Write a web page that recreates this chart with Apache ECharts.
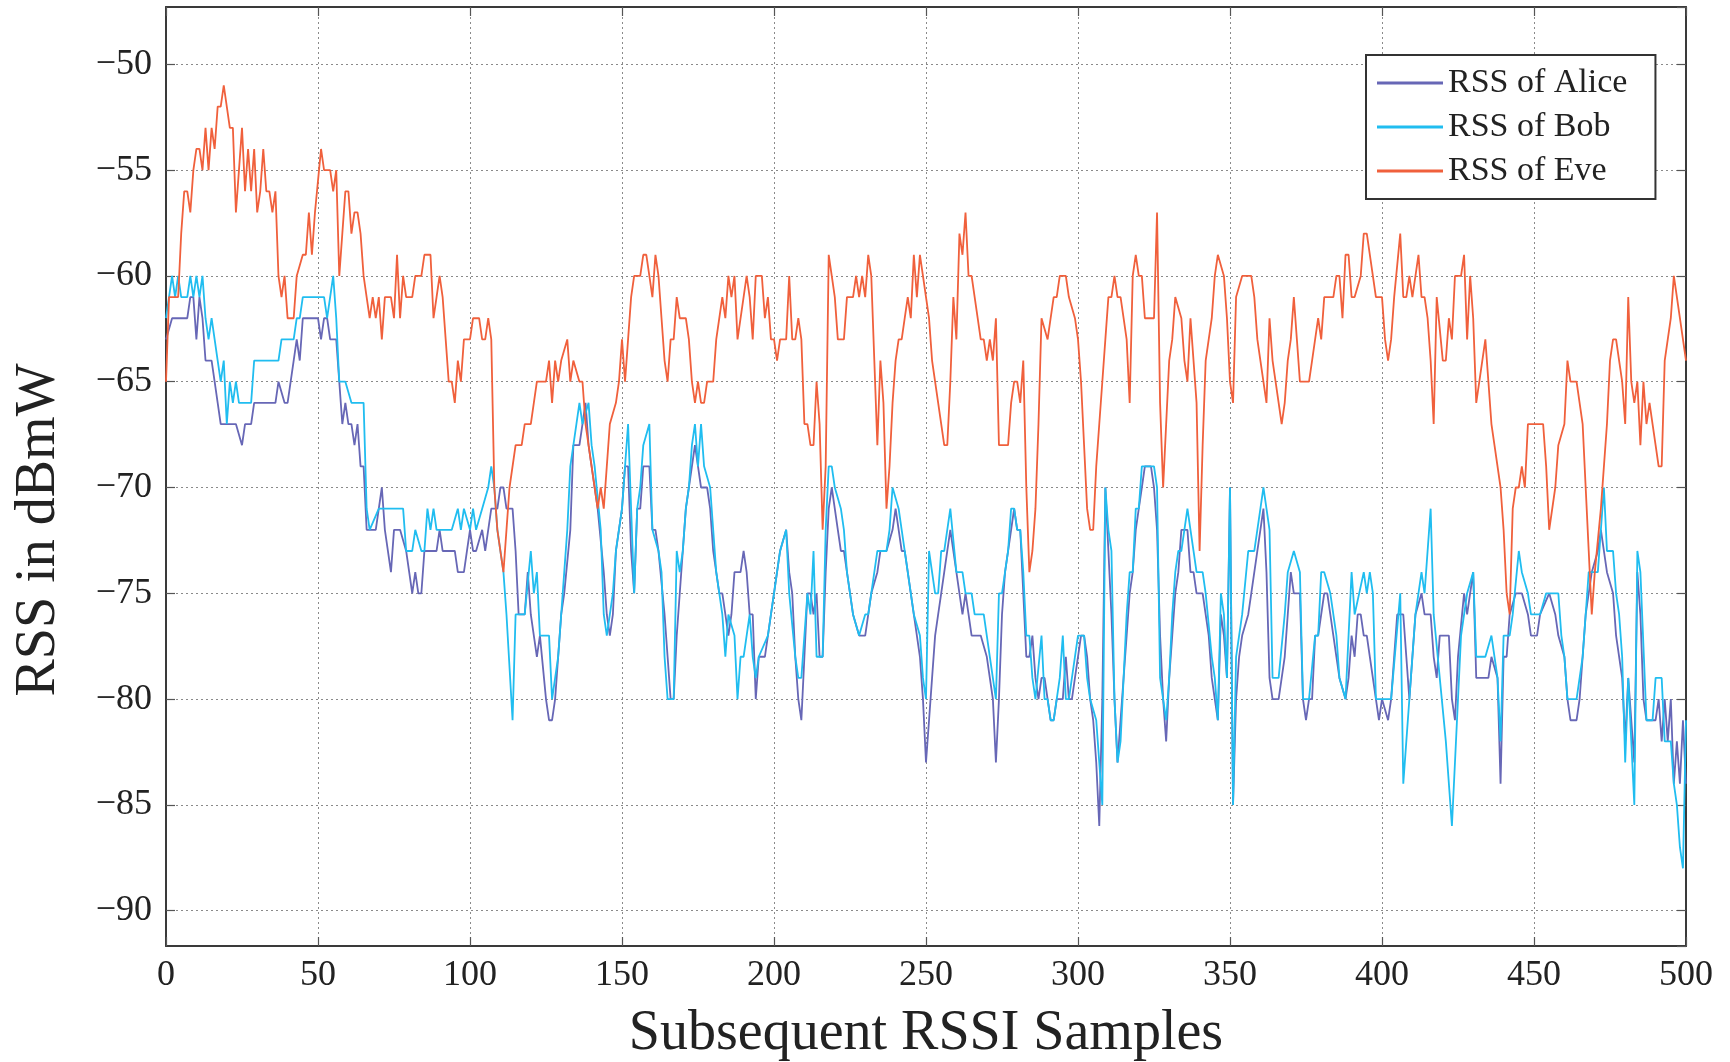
<!DOCTYPE html>
<html>
<head>
<meta charset="utf-8">
<script src="https://cdn.jsdelivr.net/npm/echarts@6/dist/echarts.min.js"></script>
<style>html,body{margin:0;padding:0;background:#fff}#c{width:1730px;height:1062px}</style>
</head>
<body>
<div id="c"></div>
<script>
const seriesNames = ['RSS of Alice', 'RSS of Bob', 'RSS of Eve'];
const xTicks = [0, 50, 100, 150, 200, 250, 300, 350, 400, 450, 500];
const yTicks = [-90, -85, -80, -75, -70, -65, -60, -55, -50];
const xTitle = 'Subsequent RSSI Samples';
const yTitle = 'RSS in dBmW';

const alice = [[0,-63],[2,-62],[7,-62],[8,-61],[9,-61],[10,-63],[11,-61],[12,-62],[13,-64],[15,-64],[16,-65],[17,-66],[18,-67],[23,-67],[25,-68],[26,-67],[28,-67],[29,-66],[36,-66],[37,-65],[39,-66],[40,-66],[42,-64],[43,-63],[44,-64],[45,-62],[50,-62],[51,-63],[52,-62],[53,-62],[54,-63],[56,-63],[57,-65],[58,-67],[59,-66],[60,-67],[61,-67],[62,-68],[63,-67],[64,-69],[65,-69],[66,-72],[69,-72],[70,-71],[71,-70],[72,-72],[74,-74],[75,-72],[77,-72],[79,-73],[80,-74],[81,-75],[82,-74],[83,-75],[84,-75],[85,-73],[89,-73],[90,-72],[91,-73],[95,-73],[96,-74],[98,-74],[99,-73],[100,-72],[101,-73],[102,-73],[104,-72],[105,-73],[107,-71],[109,-71],[110,-70],[111,-70],[112,-71],[114,-71],[115,-73],[116,-76],[118,-76],[119,-74],[120,-76],[122,-78],[123,-77],[125,-80],[126,-81],[127,-81],[128,-80],[129,-78],[130,-76],[131,-75],[133,-72],[134,-68],[136,-68],[137,-67],[138,-66],[139,-68],[140,-69],[142,-71],[144,-74],[145,-76],[146,-77],[147,-76],[148,-73],[150,-71],[151,-69],[152,-69],[153,-73],[154,-75],[155,-71],[156,-71],[157,-69],[159,-69],[160,-72],[161,-72],[162,-73],[164,-76],[165,-78],[166,-80],[167,-80],[168,-77],[169,-75],[170,-73],[171,-71],[172,-70],[174,-68],[175,-69],[176,-70],[178,-70],[179,-71],[180,-73],[182,-75],[183,-75],[184,-76],[185,-77],[186,-76],[187,-74],[189,-74],[190,-73],[191,-74],[192,-76],[193,-76],[194,-80],[195,-78],[197,-78],[198,-77],[199,-76],[200,-75],[202,-73],[204,-72],[205,-74],[206,-75],[207,-78],[208,-80],[209,-81],[210,-78],[211,-75],[212,-75],[213,-76],[214,-75],[215,-78],[216,-78],[217,-74],[218,-71],[219,-70],[220,-71],[221,-72],[222,-73],[223,-73],[224,-74],[226,-76],[228,-77],[230,-77],[232,-75],[234,-74],[235,-73],[237,-73],[239,-72],[240,-71],[242,-73],[243,-73],[245,-75],[247,-77],[248,-78],[249,-80],[250,-83],[251,-81],[252,-79],[253,-77],[254,-76],[255,-75],[256,-74],[257,-73],[258,-72],[260,-74],[261,-75],[262,-76],[263,-75],[264,-76],[265,-77],[268,-77],[270,-78],[271,-79],[272,-80],[273,-83],[274,-80],[275,-76],[276,-74],[278,-72],[279,-71],[280,-72],[281,-72],[282,-75],[283,-78],[284,-78],[285,-77],[286,-79],[287,-80],[288,-79],[289,-79],[290,-80],[291,-81],[292,-81],[293,-80],[295,-80],[296,-78],[297,-80],[298,-80],[299,-79],[301,-77],[302,-77],[303,-78],[304,-80],[305,-81],[306,-83],[307,-86],[308,-80],[309,-70],[310,-73],[311,-76],[312,-80],[313,-83],[314,-81],[315,-79],[316,-77],[317,-75],[318,-74],[319,-72],[320,-71],[321,-70],[322,-69],[324,-69],[325,-70],[326,-72],[327,-77],[328,-80],[329,-82],[330,-79],[331,-77],[332,-75],[333,-74],[334,-72],[336,-72],[337,-74],[338,-74],[339,-75],[341,-75],[343,-77],[344,-79],[345,-80],[346,-81],[347,-76],[348,-77],[349,-79],[350,-70],[351,-85],[352,-80],[353,-78],[354,-77],[356,-76],[357,-75],[359,-73],[360,-72],[361,-71],[362,-74],[363,-79],[364,-80],[366,-80],[368,-78],[369,-76],[370,-74],[371,-75],[373,-75],[374,-80],[375,-81],[376,-80],[377,-80],[378,-77],[379,-77],[381,-75],[382,-75],[383,-76],[384,-77],[385,-78],[386,-79],[388,-80],[389,-79],[390,-77],[391,-78],[392,-76],[393,-76],[394,-77],[395,-77],[396,-78],[398,-80],[399,-81],[400,-80],[402,-81],[403,-80],[404,-78],[405,-76],[407,-76],[408,-78],[409,-80],[410,-78],[411,-76],[413,-75],[414,-76],[416,-76],[417,-78],[418,-79],[419,-77],[422,-77],[423,-80],[424,-81],[425,-78],[427,-75],[428,-76],[430,-74],[431,-79],[435,-79],[436,-78],[438,-79],[439,-84],[440,-78],[441,-78],[442,-76],[444,-75],[446,-75],[448,-76],[449,-77],[451,-77],[452,-76],[455,-75],[457,-76],[458,-77],[460,-78],[461,-80],[462,-81],[464,-81],[465,-80],[466,-78],[467,-76],[469,-74],[471,-73],[472,-72],[474,-74],[476,-75],[477,-77],[479,-79],[480,-82],[481,-79],[483,-83],[484,-74],[485,-76],[486,-80],[487,-81],[490,-81],[491,-80],[492,-82],[493,-80],[494,-82],[495,-80],[496,-84],[497,-82],[498,-84],[499,-81],[500,-84]];

const bob = [[0,-62],[2,-60],[3,-61],[4,-60],[5,-61],[7,-61],[8,-60],[9,-61],[10,-60],[11,-61],[12,-60],[13,-62],[14,-63],[15,-62],[16,-63],[17,-64],[18,-65],[19,-64],[20,-67],[21,-65],[22,-66],[23,-65],[24,-66],[28,-66],[29,-64],[37,-64],[38,-63],[42,-63],[43,-62],[44,-62],[45,-61],[52,-61],[53,-62],[55,-60],[56,-62],[57,-65],[59,-65],[61,-66],[65,-66],[66,-71],[67,-72],[70,-71],[78,-71],[79,-73],[81,-73],[82,-72],[84,-73],[85,-73],[86,-71],[87,-72],[88,-71],[89,-72],[94,-72],[96,-71],[97,-72],[98,-71],[100,-72],[101,-71],[102,-72],[104,-71],[106,-70],[107,-69],[108,-70],[109,-72],[111,-74],[112,-76],[114,-81],[115,-76],[118,-76],[120,-73],[121,-75],[122,-74],[123,-77],[126,-77],[127,-80],[129,-78],[130,-76],[131,-74],[132,-72],[133,-69],[135,-67],[136,-66],[137,-67],[139,-66],[140,-68],[141,-69],[143,-72],[144,-76],[145,-77],[147,-75],[148,-73],[150,-71],[152,-67],[153,-71],[154,-75],[155,-71],[156,-70],[157,-68],[159,-67],[160,-72],[162,-73],[163,-74],[164,-78],[165,-80],[167,-80],[168,-73],[169,-74],[170,-73],[171,-71],[172,-70],[173,-68],[174,-67],[175,-69],[176,-67],[177,-69],[179,-70],[180,-72],[181,-74],[183,-76],[184,-78],[185,-76],[187,-77],[188,-80],[189,-78],[190,-78],[192,-76],[193,-78],[194,-79],[195,-78],[198,-77],[199,-76],[200,-75],[202,-73],[204,-72],[205,-75],[207,-78],[208,-79],[209,-79],[210,-77],[211,-75],[212,-76],[213,-73],[214,-78],[216,-78],[217,-72],[218,-69],[219,-69],[220,-70],[222,-71],[223,-72],[224,-74],[226,-76],[228,-77],[230,-76],[231,-76],[233,-74],[234,-73],[237,-73],[238,-72],[239,-70],[241,-71],[242,-72],[244,-74],[246,-76],[248,-77],[249,-79],[250,-80],[251,-73],[252,-74],[253,-75],[254,-75],[255,-73],[256,-73],[258,-71],[260,-74],[262,-74],[263,-75],[265,-75],[266,-76],[269,-76],[270,-77],[271,-78],[273,-80],[274,-75],[275,-75],[276,-74],[277,-73],[278,-71],[279,-71],[280,-72],[281,-72],[282,-74],[283,-77],[284,-77],[285,-79],[286,-80],[288,-77],[289,-80],[290,-80],[291,-81],[292,-81],[293,-80],[294,-79],[295,-77],[296,-80],[297,-80],[298,-79],[300,-77],[302,-77],[303,-79],[304,-80],[306,-81],[307,-83],[308,-85],[309,-70],[310,-72],[311,-73],[312,-80],[313,-83],[314,-82],[315,-79],[316,-76],[317,-74],[318,-74],[319,-71],[320,-71],[321,-69],[325,-69],[326,-70],[327,-79],[328,-80],[329,-81],[330,-79],[331,-76],[332,-74],[333,-73],[334,-73],[336,-71],[337,-72],[338,-73],[339,-74],[341,-74],[342,-75],[344,-78],[345,-79],[346,-81],[347,-75],[348,-76],[349,-79],[350,-70],[351,-85],[352,-78],[353,-77],[354,-76],[356,-73],[358,-73],[360,-71],[361,-70],[362,-71],[363,-72],[364,-79],[366,-79],[368,-76],[369,-74],[371,-73],[373,-74],[374,-80],[376,-80],[378,-77],[379,-77],[380,-74],[381,-74],[383,-75],[385,-77],[386,-79],[388,-80],[389,-77],[390,-74],[391,-76],[394,-74],[395,-75],[396,-74],[397,-75],[398,-80],[403,-80],[406,-75],[407,-84],[409,-80],[411,-76],[413,-74],[414,-75],[416,-71],[417,-76],[419,-79],[421,-82],[423,-86],[425,-80],[426,-77],[428,-75],[430,-74],[431,-78],[434,-78],[436,-77],[438,-79],[439,-82],[440,-77],[442,-77],[443,-76],[445,-73],[446,-74],[448,-75],[449,-76],[452,-76],[454,-75],[458,-75],[459,-77],[460,-78],[461,-80],[464,-80],[466,-78],[467,-76],[468,-74],[471,-74],[472,-72],[473,-70],[474,-73],[476,-73],[477,-75],[478,-76],[479,-78],[480,-83],[481,-79],[483,-85],[484,-73],[485,-74],[487,-81],[489,-81],[490,-79],[492,-79],[493,-82],[495,-82],[496,-84],[497,-85],[498,-87],[499,-88],[500,-81]];

const eve = [[0,-65],[1,-61],[4,-61],[5,-58],[6,-56],[7,-56],[8,-57],[9,-55],[10,-54],[11,-54],[12,-55],[13,-53],[14,-55],[15,-53],[16,-54],[17,-52],[18,-52],[19,-51],[21,-53],[22,-53],[23,-57],[24,-55],[25,-53],[26,-56],[27,-54],[28,-56],[29,-54],[30,-57],[31,-56],[32,-54],[33,-56],[34,-56],[35,-57],[36,-56],[37,-60],[38,-61],[39,-60],[40,-62],[42,-62],[43,-60],[45,-59],[46,-59],[47,-57],[48,-59],[49,-57],[51,-54],[52,-55],[54,-55],[55,-56],[56,-55],[57,-60],[58,-58],[59,-56],[60,-56],[61,-58],[62,-57],[63,-57],[64,-58],[65,-60],[66,-61],[67,-62],[68,-61],[69,-62],[70,-61],[71,-63],[72,-61],[74,-61],[75,-62],[76,-59],[77,-62],[78,-60],[79,-61],[81,-61],[82,-60],[84,-60],[85,-59],[87,-59],[88,-62],[89,-61],[90,-60],[91,-61],[92,-63],[93,-65],[94,-65],[95,-66],[96,-64],[97,-65],[98,-63],[100,-63],[101,-62],[103,-62],[104,-63],[105,-63],[106,-62],[107,-63],[108,-70],[109,-72],[111,-74],[112,-72],[113,-70],[115,-68],[117,-68],[118,-67],[120,-67],[121,-66],[122,-65],[125,-65],[126,-64],[127,-66],[128,-64],[129,-65],[130,-64],[132,-63],[133,-65],[134,-64],[136,-65],[137,-65],[138,-67],[140,-69],[141,-70],[142,-71],[143,-70],[144,-71],[145,-69],[146,-67],[148,-66],[149,-65],[150,-63],[151,-65],[152,-63],[153,-61],[154,-60],[156,-60],[157,-59],[158,-59],[159,-60],[160,-61],[161,-59],[162,-60],[163,-62],[164,-64],[165,-65],[166,-63],[167,-63],[168,-61],[169,-62],[171,-62],[172,-63],[173,-65],[174,-66],[175,-65],[176,-66],[177,-66],[178,-65],[180,-65],[181,-63],[183,-61],[184,-62],[185,-60],[186,-61],[187,-60],[188,-63],[190,-61],[191,-60],[192,-61],[193,-63],[194,-60],[196,-60],[197,-62],[198,-61],[199,-63],[200,-63],[201,-64],[202,-63],[204,-63],[205,-60],[206,-63],[207,-63],[208,-62],[209,-63],[210,-67],[211,-67],[212,-68],[213,-68],[214,-65],[215,-67],[216,-72],[217,-69],[218,-59],[219,-60],[220,-61],[221,-63],[223,-63],[224,-61],[226,-61],[227,-60],[228,-61],[229,-60],[230,-61],[231,-59],[232,-60],[233,-64],[234,-68],[235,-64],[236,-66],[237,-71],[238,-69],[239,-66],[240,-64],[241,-63],[242,-63],[243,-62],[244,-61],[245,-62],[246,-59],[247,-61],[248,-59],[249,-60],[250,-61],[251,-62],[252,-64],[254,-66],[256,-68],[257,-68],[258,-65],[259,-61],[260,-63],[261,-58],[262,-59],[263,-57],[264,-60],[265,-60],[267,-62],[268,-63],[269,-63],[270,-64],[271,-63],[272,-64],[273,-62],[274,-68],[277,-68],[278,-66],[279,-65],[280,-65],[281,-66],[282,-64],[283,-70],[284,-74],[285,-73],[286,-71],[287,-67],[288,-62],[290,-63],[291,-62],[292,-61],[293,-61],[294,-60],[296,-60],[297,-61],[299,-62],[300,-63],[301,-65],[302,-68],[303,-71],[304,-72],[305,-72],[306,-69],[307,-67],[308,-65],[309,-63],[310,-61],[311,-61],[312,-60],[313,-61],[314,-61],[315,-62],[316,-63],[317,-66],[318,-60],[319,-59],[320,-60],[321,-60],[322,-62],[325,-62],[326,-57],[327,-66],[328,-70],[329,-67],[330,-64],[331,-63],[332,-61],[334,-62],[335,-64],[336,-65],[337,-62],[339,-66],[340,-73],[341,-68],[342,-64],[343,-63],[344,-62],[345,-60],[346,-59],[348,-60],[349,-62],[350,-65],[351,-66],[352,-61],[354,-60],[357,-60],[358,-61],[359,-63],[360,-64],[362,-66],[363,-62],[364,-64],[366,-66],[367,-67],[368,-66],[369,-64],[370,-63],[371,-61],[372,-63],[373,-65],[376,-65],[377,-64],[379,-62],[380,-63],[381,-61],[384,-61],[385,-60],[386,-60],[387,-62],[388,-59],[389,-59],[390,-61],[391,-61],[393,-60],[394,-58],[395,-58],[397,-60],[398,-61],[400,-61],[401,-63],[402,-64],[403,-63],[404,-61],[406,-58],[407,-61],[408,-61],[409,-60],[410,-61],[412,-59],[413,-61],[414,-61],[415,-62],[416,-64],[417,-67],[418,-61],[420,-64],[421,-64],[422,-62],[423,-63],[424,-60],[426,-60],[427,-59],[428,-63],[429,-60],[430,-62],[431,-66],[433,-64],[434,-63],[435,-65],[436,-67],[437,-68],[439,-70],[440,-72],[441,-75],[442,-76],[443,-71],[444,-70],[445,-70],[446,-69],[447,-70],[448,-67],[453,-67],[454,-69],[455,-72],[457,-70],[458,-68],[460,-67],[461,-64],[462,-65],[464,-65],[466,-67],[467,-70],[468,-73],[469,-76],[470,-74],[472,-71],[474,-67],[475,-64],[476,-63],[477,-63],[478,-64],[479,-65],[480,-67],[481,-61],[482,-65],[483,-66],[484,-65],[485,-68],[486,-65],[487,-67],[488,-66],[489,-67],[490,-68],[491,-69],[492,-69],[493,-64],[494,-63],[495,-62],[496,-60],[498,-62],[500,-64]];

const FONT = 'Liberation Serif';
const colors = ['#6767b6', '#20bdf0', '#f0603c'];
const fmt = v => (v < 0 ? '\u2212' + Math.abs(v) : String(v));
const gridLine = { show: true, lineStyle: { color: '#8a8a8a', width: 1, type: [2, 3] } };
const frameLine = { show: true, onZero: false, lineStyle: { color: '#3a3a3a', width: 2 } };
const tickIn = { show: true, inside: true, length: 9, lineStyle: { color: '#555', width: 1.2 } };

const chart = echarts.init(document.getElementById('c'), null, { renderer: 'canvas' });
chart.setOption({
  animation: false,
  backgroundColor: '#fff',
  color: colors,
  grid: { left: 166, right: 44, top: 7, bottom: 116, containLabel: false, outerBoundsMode: 'none' },
  legend: {
    orient: 'vertical', left: 1366, top: 55,
    itemWidth: 66, itemHeight: 3, itemGap: 8, icon: 'rect',
    padding: [10, 28, 10, 11],
    borderColor: '#333', borderWidth: 2, backgroundColor: '#fff',
    textStyle: { fontFamily: FONT, fontSize: 34, color: '#222', lineHeight: 36 },
    data: seriesNames
  },
  graphic: [{
    type: 'text', x: 39, y: 530, rotation: Math.PI / 2, silent: true,
    style: { text: yTitle, font: '56px "Liberation Serif"', fill: '#222', align: 'center', verticalAlign: 'middle' }
  }],
  xAxis: [{
    type: 'value', min: xTicks[0], max: xTicks[xTicks.length - 1], interval: 50, position: 'bottom',
    axisLine: frameLine, axisTick: tickIn, splitLine: gridLine,
    axisLabel: { fontFamily: FONT, fontSize: 36, color: '#222', margin: 12, formatter: fmt },
    name: xTitle, nameLocation: 'middle', nameGap: 60,
    nameTextStyle: { fontFamily: FONT, fontSize: 56, color: '#222' }
  }, {
    type: 'value', min: 0, max: 500, interval: 50, position: 'top',
    axisLine: frameLine, axisTick: tickIn, splitLine: { show: false }, axisLabel: { show: false }
  }],
  yAxis: [{
    type: 'value', min: -91.67, max: -47.29, splitNumber: 9, minInterval: 5, maxInterval: 5, position: 'left',
    axisLine: frameLine, axisTick: tickIn, splitLine: gridLine,
    axisLabel: { fontFamily: FONT, fontSize: 36, color: '#222', margin: 14, formatter: fmt,
      showMinLabel: false, showMaxLabel: false }
  }, {
    type: 'value', min: -91.67, max: -47.29, splitNumber: 9, minInterval: 5, maxInterval: 5, position: 'right',
    axisLine: frameLine, axisTick: tickIn, splitLine: { show: false }, axisLabel: { show: false }
  }],
  series: [
    { name: seriesNames[0], type: 'line', data: alice, showSymbol: false, symbol: 'none', lineStyle: { width: 1.8, color: colors[0] }, z: 2 },
    { name: seriesNames[1], type: 'line', data: bob, showSymbol: false, symbol: 'none', lineStyle: { width: 1.8, color: colors[1] }, z: 3 },
    { name: seriesNames[2], type: 'line', data: eve, showSymbol: false, symbol: 'none', lineStyle: { width: 1.8, color: colors[2] }, z: 4 }
  ]
});
</script>
</body>
</html>
